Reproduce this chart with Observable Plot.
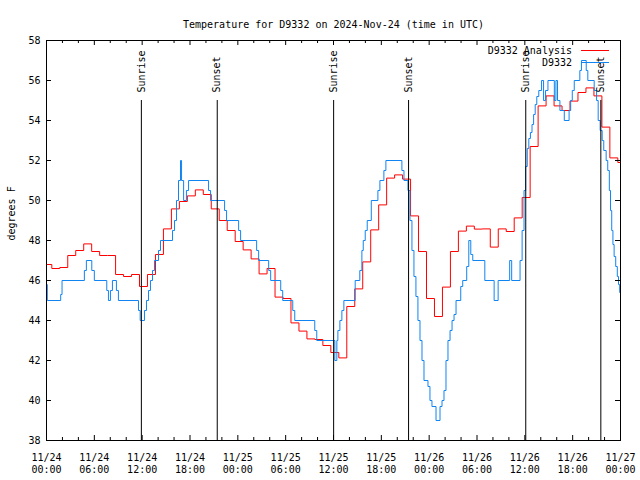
<!DOCTYPE html>
<html><head><meta charset="utf-8">
<script src="https://cdn.jsdelivr.net/npm/d3@7"></script>
<script src="https://cdn.jsdelivr.net/npm/@observablehq/plot@0.6"></script>
<style>html,body{margin:0;padding:0;background:#fff}svg{display:block}</style>
</head><body><div id="chart"></div>
<script>
const titleText = "Temperature for D9332 on 2024-Nov-24 (time in UTC)";
const yLabel = "degrees F";
const seriesNames = ["D9332 Analysis", "D9332"];
const seriesColors = ["#ff0000", "#1084f0"];
const startTime = "2024-11-24T00:00:00Z";
const endTime = "2024-11-27T00:00:00Z";
// hourly analysis values, first one valid from 2024-11-23 23:40 UTC
const analysisStart = "2024-11-23T23:40:00Z";
const analysisTemps = [46.8,46.6,46.65,47.25,47.5,47.83,47.45,47.25,47.25,46.3,46.2,46.3,45.7,46.3,47.3,48.58,49.58,49.95,50.23,50.53,50.3,49.58,49.0,48.5,47.95,47.53,47.08,46.33,46.6,45.17,45.1,43.88,43.47,43.08,43.05,42.75,42.4,42.13,44.7,45.58,46.93,48.53,49.78,51.12,51.28,51.07,49.23,47.45,45.1,44.2,45.67,47.45,48.47,48.72,48.57,48.58,47.67,48.58,48.45,49.13,50.15,52.7,54.73,55.23,54.73,54.5,54.97,55.4,55.63,55.23,53.67,52.13,51.9,51.5];
// station observations: hours after 2024-11-24 00:00 UTC and temperature
const obsHours = [0,0.1,1.78,1.95,4.75,5.0,5.68,6.0,7.56,7.77,8.02,8.27,8.77,9.02,11.54,11.75,12.29,12.54,12.8,13.04,13.3,13.55,14.05,14.3,15.81,16.06,16.31,16.56,16.81,16.94,17.2,17.55,17.82,20.33,20.58,22.34,22.59,24.1,24.35,26.36,26.61,27.87,28.12,29.38,29.63,30.89,31.14,33.65,33.9,36.17,36.42,36.55,36.8,37.05,37.3,38.72,39.3,39.56,39.73,39.98,40.23,40.74,41.57,41.82,42.32,42.57,44.58,44.84,45.34,45.59,45.84,46.09,46.34,46.59,46.85,47.1,47.35,47.85,48.1,48.35,48.86,49.36,49.61,49.86,50.11,50.36,50.62,50.87,51.12,51.37,51.96,52.21,52.71,52.97,53.22,53.47,54.98,56.15,56.65,58.1,58.35,59.4,59.66,59.9,60.1,60.3,60.5,60.7,60.9,61.1,61.3,61.5,61.75,62.1,62.35,62.6,62.9,63.7,63.9,64.1,64.4,64.95,65.55,65.75,65.95,66.2,66.9,67.1,67.7,67.9,68.7,69.0,69.2,69.45,69.7,69.9,70.2,70.4,70.6,70.75,70.9,71.05,71.2,71.4,71.6,71.75,71.9,72.0];
const obsTemps = [45.8,45,45.3,46,46.5,47,46.5,46,45.5,45,45.5,46,45.5,45,44.5,44,44.5,45,45.5,46,46.5,47,47.5,48,48.5,49,50,51,52,51,50,50.5,51,50.5,50,49.5,49,48.5,48,47.5,47,46.5,46,45.5,45,44.5,44,43.5,43,42,43,43.5,44,44.5,45,46,46.5,47.5,48,48.5,49,50,50.5,51,51.5,52,51.5,51,50.5,49,47.5,46.2,45.2,44,43,42,41,40.7,40,39.7,39,39.7,40,40.5,42,43,43.5,44,44.3,45,45.7,46,46.7,48,47.3,47,46,45,46,47,46,47,48.5,50.5,51.7,52.6,53.1,53.4,53.8,54.3,54.8,55.2,55.5,56,55,55.5,56,55,56,55,54.5,54,54.5,55,55.5,56,56.5,57,56.5,56,55.5,55,54,53.5,53,52.5,52,51.5,50.5,49.5,48.5,47.8,47.2,46.7,46.2,45.8,45.4,45];
const sunEvents = ["Sunrise","Sunset","Sunrise","Sunset","Sunrise","Sunset"];
const sunTimes = ["2024-11-24T11:54:00Z","2024-11-24T21:25:00Z","2024-11-25T12:01:00Z","2024-11-25T21:25:00Z","2024-11-26T12:07:00Z","2024-11-26T21:32:00Z"];
const xTickTimes = ["2024-11-24T00:00:00Z","2024-11-24T06:00:00Z","2024-11-24T12:00:00Z","2024-11-24T18:00:00Z","2024-11-25T00:00:00Z","2024-11-25T06:00:00Z","2024-11-25T12:00:00Z","2024-11-25T18:00:00Z","2024-11-26T00:00:00Z","2024-11-26T06:00:00Z","2024-11-26T12:00:00Z","2024-11-26T18:00:00Z","2024-11-27T00:00:00Z"];
const xTickLabels = ["11/24\n00:00","11/24\n06:00","11/24\n12:00","11/24\n18:00","11/25\n00:00","11/25\n06:00","11/25\n12:00","11/25\n18:00","11/26\n00:00","11/26\n06:00","11/26\n12:00","11/26\n18:00","11/27\n00:00"];
const yTicks = [38,40,42,44,46,48,50,52,54,56,58];

const t0 = Date.parse(startTime);
const a0 = Date.parse(analysisStart);
const analysis = analysisTemps.map((v, i) => ({t: new Date(a0 + i * 3600e3), v}));
const obs = obsHours.map((h, i) => ({t: new Date(t0 + h * 3600e3), v: obsTemps[i]}));
const sun = sunEvents.map((e, i) => ({t: new Date(sunTimes[i]), e}));
const xTicks = xTickTimes.map((s, i) => ({t: new Date(s), label: xTickLabels[i]}));
const minorTicks = d3.utcHour.every(2).range(new Date(startTime), new Date(endTime)).filter(d => d.getUTCHours() % 6 !== 0);

const W = 640, H = 480, ML = 46, MR = 20, MT = 40, MB = 40;
const FW = W - ML - MR, FH = H - MT - MB;

const legend = (index, scales, values, dims) => {
  const g = d3.create("svg:g");
  const xr = dims.width - dims.marginRight;
  seriesNames.forEach((n, i) => {
    const y = dims.marginTop + 10.5 + i * 12;
    g.append("text").attr("x", xr - 48).attr("y", y).attr("dy", "0.32em")
      .attr("text-anchor", "end").attr("fill", "black").text(n);
    g.append("line").attr("x1", xr - 39).attr("x2", xr - 11).attr("y1", y).attr("y2", y)
      .attr("stroke", seriesColors[i]).attr("stroke-width", 1);
  });
  return g.node();
};

const chart = Plot.plot({
  width: W, height: H,
  marginLeft: ML, marginRight: MR, marginTop: MT, marginBottom: MB,
  style: {fontFamily: "'DejaVu Sans Mono', monospace", fontSize: "10px", background: "white", color: "black"},
  x: {type: "utc", domain: [new Date(startTime), new Date(endTime)], axis: null},
  y: {domain: [38, 58], axis: null},
  marks: [
    Plot.line(analysis, {x: "t", y: "v", curve: "step-after", stroke: seriesColors[0], strokeWidth: 1, clip: true}),
    Plot.line(obs, {x: "t", y: "v", curve: "step-after", stroke: seriesColors[1], strokeWidth: 1, clip: true}),
    Plot.ruleX(sun, {x: "t", y1: 38, y2: 55, stroke: "black", strokeWidth: 1}),
    Plot.text(sun, {x: "t", y: 55, text: "e", rotate: -90, textAnchor: "start", dy: -8, fill: "black"}),
    Plot.tickX(xTicks, {x: "t", insetTop: FH - 5, stroke: "black"}),
    Plot.tickX(xTicks, {x: "t", insetBottom: FH - 5, stroke: "black"}),
    Plot.tickX(minorTicks, {x: d => d, insetTop: FH - 3, stroke: "black"}),
    Plot.tickX(minorTicks, {x: d => d, insetBottom: FH - 3, stroke: "black"}),
    Plot.tickY(yTicks, {y: d => d, insetRight: FW - 5, stroke: "black"}),
    Plot.tickY(yTicks, {y: d => d, insetLeft: FW - 5, stroke: "black"}),
    Plot.frame({stroke: "black", strokeWidth: 1}),
    Plot.text(yTicks, {y: d => d, text: d => String(d), frameAnchor: "left", textAnchor: "end", dx: -6, fill: "black"}),
    Plot.text(xTicks, {x: "t", text: "label", frameAnchor: "bottom", lineAnchor: "top", dy: 12, lineHeight: 1.2, fill: "black"}),
    Plot.text([titleText], {frameAnchor: "top", dy: -20, fill: "black"}),
    Plot.text([yLabel], {frameAnchor: "left", dx: -35, rotate: -90, fill: "black"}),
    legend
  ]
});
document.getElementById("chart").appendChild(chart);
</script>
</body></html>
